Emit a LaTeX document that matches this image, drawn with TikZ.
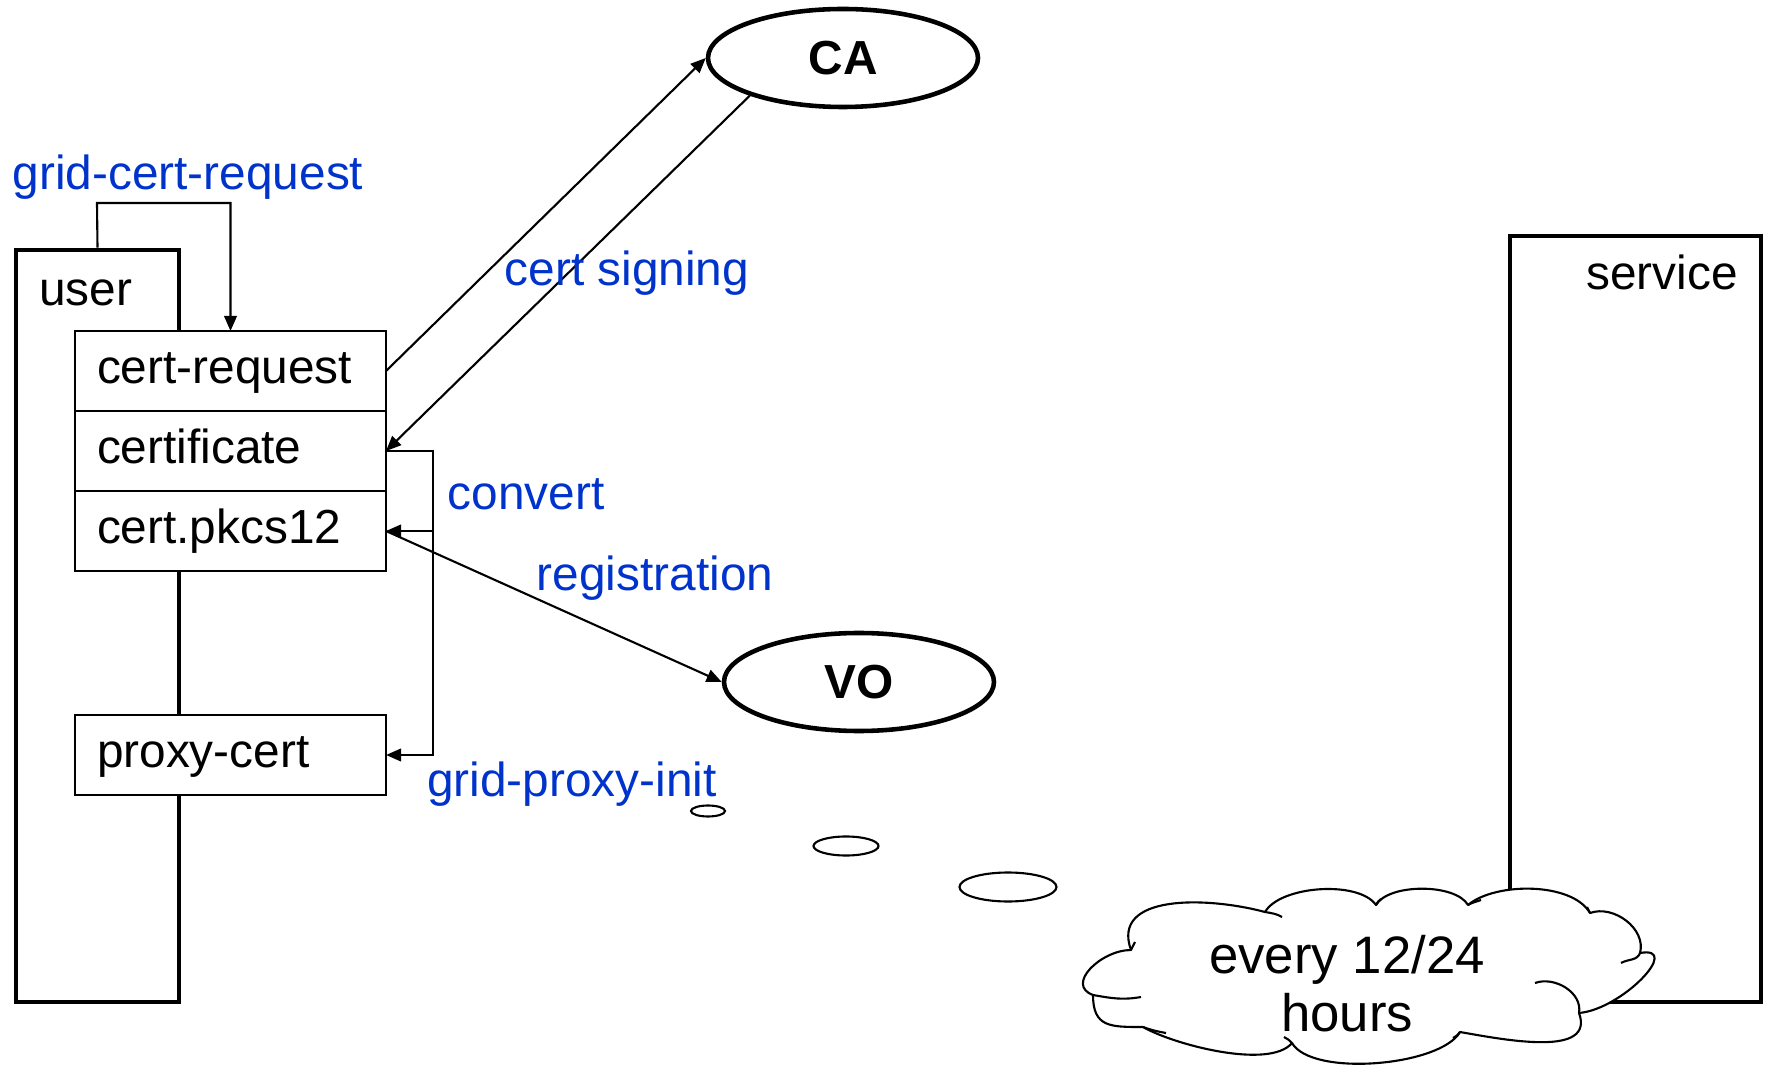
\documentclass[tikz,border=0pt]{standalone}
\usepackage{fontspec}
\setmainfont{Liberation Sans}
\usepackage{xcolor}
\usetikzlibrary{arrows.meta,shapes.geometric}
\definecolor{cmdblue}{RGB}{0,51,204}

\begin{document}
\begin{tikzpicture}[x=0.1mm, y=-0.1mm, >={Triangle[length=4.3pt,width=3.6pt]},
    every node/.style={font=\fontsize{13.6}{16}\selectfont},
    host/.style={draw, line width=1.4pt, inner sep=0pt},
    filebox/.style={draw, fill=white, line width=0.65pt, outer sep=0pt,
        text width=26.7mm, inner xsep=2.2mm, minimum height=8mm, align=left,
        text height=9.8pt, text depth=2.9pt},
    party/.style={ellipse, draw, line width=1.3pt, minimum width=27mm,
        minimum height=9.8mm, font=\fontsize{13.6}{16}\selectfont\bfseries},
    cmd/.style={text=cmdblue},
    bubble/.style={ellipse, draw, line width=0.6pt, inner sep=0pt},
    link/.style={line width=0.6pt},
    puff/.style={line width=0.6pt, line join=round}]
    \useasboundingbox (0,0) rectangle (1768,1065);

    \node[host, minimum width=16.3mm, minimum height=75.2mm] (user) at (97.5,626) {};
    \node[anchor=west] (userlbl) at (27,293) {user};
    \node[host, minimum width=25.1mm, minimum height=76.6mm] (service) at (1635.5,619) {};
    \node[anchor=east] (servicelbl) at (1750,272) {service};

    \node[filebox] (certreq) at (230.5,371) {cert-request};
    \node[filebox] (cert) at (230.5,451) {certificate};
    \node[filebox] (pkcs) at (230.5,531) {cert.pkcs12};
    \node[filebox] (proxy) at (230.5,755) {proxy-cert};

    \node[party] (ca) at (843,58) {CA};
    \node[party] (vo) at (859,682) {VO};

    \coordinate (reqtop) at (97,203);
    \coordinate (convbend) at (433,451);

    \draw[link, ->] (user.north) -- (reqtop) -| (certreq.north);
    \draw[link, ->] (certreq.east) -- (ca.west);
    \draw[link, ->] (ca.202) -- (cert.east);
    \draw[link, ->] (cert.east) -- (convbend) |- (proxy.east);
    \draw[link, ->] (convbend |- pkcs.east) -- (pkcs.east);
    \draw[link, ->] (pkcs.east) -- (vo.west);

    \node[cmd] (gcr) at (188,177) {grid-cert-request};
    \node[cmd] (signing) at (627,273) {cert signing};
    \node[cmd] (convert) at (526,494) {convert};
    \node[cmd] (registration) at (655,578) {registration};
    \node[cmd] (gpi) at (572,784) {grid-proxy-init};

    \node[bubble, minimum width=3.4mm, minimum height=1.1mm] (b1) at (708,811) {};
    \node[bubble, minimum width=6.5mm, minimum height=1.9mm] (b2) at (846,846) {};
    \node[bubble, minimum width=9.7mm, minimum height=2.9mm] (b3) at (1008,887) {};

    % cloud
    \filldraw[puff, fill=white] (1131,950)
        to[out=110, in=165, looseness=1.1] (1265,912)
        to[out=60, in=125, looseness=0.7] (1376,905)
        to[out=60, in=120, looseness=0.7] (1468,905)
        to[out=40, in=120, looseness=0.75] (1590,913)
        to[out=20, in=75] (1640,953)
        to[out=10, in=5, looseness=1.3] (1579,1013)
        to[out=-70, in=-10] (1460,1032)
        to[out=-120, in=-60, looseness=0.6] (1292,1043)
        to[out=-130, in=-30, looseness=0.6] (1143,1027)
        to[out=180, in=-90, looseness=1.4] (1093,995)
        to[out=160, in=180, looseness=1.3] (1131,950) -- cycle;
    \draw[puff] (1093,995) to[out=-10, in=190] (1141,997);
    \draw[puff] (1535,983) to[out=20, in=80] (1579,1013);
    \draw[puff] (1621,963) to[out=30, in=-110] (1640,953);
    \draw[puff] (1265,912) to[out=-10, in=150] (1282,917);
    \draw[puff] (1376,905) to[out=70, in=-140] (1381,899);
    \draw[puff] (1468,905) to[out=30, in=-160] (1481,900);
    \draw[puff] (1590,913) to[out=100, in=-80] (1587,907);
    \draw[puff] (1460,1032) to[out=-130, in=20] (1453,1038);
    \draw[puff] (1292,1043) to[out=140, in=-20] (1284,1037);
    \draw[puff] (1143,1027) to[out=-20, in=170] (1166,1033);
    \draw[puff] (1131,950) to[out=80, in=-100] (1135,942);
    \node[align=center, font=\fontsize{15}{16.5}\selectfont] (hourslbl)
        at (1347,984) {every 12/24\\hours};
\end{tikzpicture}
\end{document}
